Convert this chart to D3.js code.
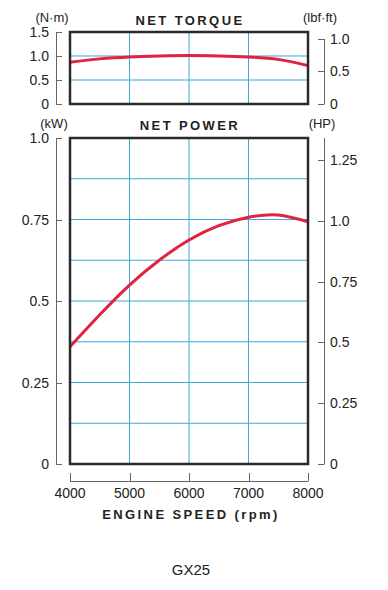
<!doctype html>
<html>
<head>
<meta charset="utf-8">
<title>GX25</title>
<style>
  body { margin: 0; background: #fff; }
  text { font-family: "Liberation Sans", Arial, sans-serif; fill: #222; }
  .ttl { font-weight: bold; letter-spacing: 2.4px; }
</style>
</head>
<body>
<script src="https://d3js.org/d3.v7.min.js"></script>
<script>
  // data
  var rpm = [4000, 4500, 5000, 5500, 6000, 6500, 7000, 7500, 8000];
  var torqueNm = [0.87, 0.94, 0.98, 1.00, 1.01, 1.00, 0.98, 0.93, 0.80];
  var powerKw = [0.36, 0.458, 0.549, 0.625, 0.687, 0.731, 0.757, 0.764, 0.743];

  var rpmTicks = [4000, 5000, 6000, 7000, 8000];
  var torqueTicks = [0, 0.5, 1.0, 1.5];
  var lbfTicks = [0, 0.5, 1.0];
  var kwTicks = [0, 0.25, 0.5, 0.75, 1.0];
  var kwGrid = [0.125, 0.25, 0.375, 0.5, 0.625, 0.75, 0.875];
  var hpTicks = [0, 0.25, 0.5, 0.75, 1.0, 1.25];

  var W = 388, H = 590;
  var svg = d3.select("body").append("svg").attr("width", W).attr("height", H);

  var x = d3.scaleLinear().domain([4000, 8000]).range([70, 308]);
  var yT = d3.scaleLinear().domain([0, 1.5]).range([104, 32]);
  var yP = d3.scaleLinear().domain([0, 1.0]).range([464, 138]);
  var NM_PER_LBF = 1.3558, KW_PER_HP = 0.7457;

  var blue = "#3ea8dc", frame = "#2b2b2b", gray = "#666", red = "#e3223f";

  function fmt(v) {
    if (v === 0) return "0";
    if (v === 1) return "1.0";
    return String(v);
  }

  function panel(y, top, bottom, hGrid) {
    var g = svg.append("g");
    // grid
    g.selectAll(".vg").data(rpmTicks.slice(1, -1)).enter().append("line")
      .attr("x1", x).attr("x2", x).attr("y1", top).attr("y2", bottom)
      .attr("stroke", blue).attr("stroke-width", 1);
    g.selectAll(".hg").data(hGrid).enter().append("line")
      .attr("x1", x(4000)).attr("x2", x(8000))
      .attr("y1", y).attr("y2", y)
      .attr("stroke", blue).attr("stroke-width", 1);
    return g;
  }

  function leftAxis(scale, ticks, top, bottom) {
    svg.append("line").attr("x1", 56.5).attr("x2", 56.5).attr("y1", top).attr("y2", bottom)
      .attr("stroke", gray).attr("stroke-width", 1);
    svg.selectAll(null).data(ticks).enter().append("line")
      .attr("x1", 56).attr("x2", 62)
      .attr("y1", function(d) { return Math.round(scale(d)) + 0.5; })
      .attr("y2", function(d) { return Math.round(scale(d)) + 0.5; })
      .attr("stroke", gray);
    svg.selectAll(null).data(ticks).enter().append("text")
      .attr("x", 49).attr("y", function(d) { return scale(d) + 5; })
      .attr("text-anchor", "end").style("font-size", "14px").text(fmt);
  }

  function rightAxis(vals, toScale, top, bottom) {
    svg.append("line").attr("x1", 324.5).attr("x2", 324.5).attr("y1", top).attr("y2", bottom)
      .attr("stroke", gray).attr("stroke-width", 1);
    svg.selectAll(null).data(vals).enter().append("line")
      .attr("x1", 318).attr("x2", 324.5)
      .attr("y1", function(d) { return Math.round(toScale(d)) + 0.5; })
      .attr("y2", function(d) { return Math.round(toScale(d)) + 0.5; })
      .attr("stroke", gray);
    svg.selectAll(null).data(vals).enter().append("text")
      .attr("x", 330).attr("y", function(d) { return toScale(d) + 5; })
      .attr("text-anchor", "start").style("font-size", "14px").text(fmt);
  }

  // ---- torque panel
  panel(yT, yT(1.5), yT(0), [0.5, 1.0]);
  leftAxis(yT, torqueTicks, yT(1.5), yT(0));
  rightAxis(lbfTicks, function(d) { return yT(d * NM_PER_LBF); }, yT(1.0 * NM_PER_LBF), yT(0));

  var lineT = d3.line().x(function(d, i) { return x(rpm[i]); }).y(function(d) { return yT(d); })
    .curve(d3.curveNatural);
  svg.append("path").datum(torqueNm).attr("d", lineT)
    .attr("fill", "none").attr("stroke", red).attr("stroke-width", 3);
  svg.append("rect").attr("x", x(4000)).attr("y", yT(1.5)).attr("width", x(8000) - x(4000))
    .attr("height", yT(0) - yT(1.5)).attr("fill", "none").attr("stroke", frame).attr("stroke-width", 2.5);

  // ---- power panel
  panel(yP, yP(1.0), yP(0), kwGrid);
  leftAxis(yP, kwTicks, yP(1.0), yP(0));
  rightAxis(hpTicks, function(d) { return yP(d * KW_PER_HP); }, yP(1.0), yP(0));

  var lineP = d3.line().x(function(d, i) { return x(rpm[i]); }).y(function(d) { return yP(d); })
    .curve(d3.curveNatural);
  svg.append("path").datum(powerKw).attr("d", lineP)
    .attr("fill", "none").attr("stroke", red).attr("stroke-width", 3);
  svg.append("rect").attr("x", x(4000)).attr("y", yP(1.0)).attr("width", x(8000) - x(4000))
    .attr("height", yP(0) - yP(1.0)).attr("fill", "none").attr("stroke", frame).attr("stroke-width", 2.5);

  // ---- x axis
  var xa = svg.append("g");
  xa.append("line").attr("x1", x(4000)).attr("x2", x(8000)).attr("y1", 481.5).attr("y2", 481.5)
    .attr("stroke", gray);
  xa.selectAll(null).data(rpmTicks).enter().append("line")
    .attr("x1", function(d) { return Math.round(x(d)) + 0.5; })
    .attr("x2", function(d) { return Math.round(x(d)) + 0.5; })
    .attr("y1", 473).attr("y2", 481.5).attr("stroke", gray);
  xa.selectAll(null).data(rpmTicks).enter().append("text")
    .attr("x", x).attr("y", 498).attr("text-anchor", "middle").style("font-size", "14px")
    .text(function(d) { return d; });

  // ---- titles and units
  svg.append("text").attr("class", "ttl").attr("x", 190).attr("y", 25).attr("text-anchor", "middle")
    .style("font-size", "13px").text("NET TORQUE");
  svg.append("text").attr("class", "ttl").attr("x", 190).attr("y", 130).attr("text-anchor", "middle")
    .style("font-size", "13px").text("NET POWER");
  svg.append("text").attr("class", "ttl").attr("x", 191).attr("y", 519).attr("text-anchor", "middle")
    .style("font-size", "13px").text("ENGINE SPEED (rpm)");

  svg.append("text").attr("x", 52).attr("y", 22).attr("text-anchor", "middle").style("font-size", "13px").text("(N·m)");
  svg.append("text").attr("x", 320).attr("y", 22).attr("text-anchor", "middle").style("font-size", "13px").text("(lbf·ft)");
  svg.append("text").attr("x", 54).attr("y", 128).attr("text-anchor", "middle").style("font-size", "13px").text("(kW)");
  svg.append("text").attr("x", 322).attr("y", 128).attr("text-anchor", "middle").style("font-size", "13px").text("(HP)");

  svg.append("text").attr("x", 191).attr("y", 575).attr("text-anchor", "middle")
    .style("font-size", "15px").text("GX25");
</script>
</body>
</html>
